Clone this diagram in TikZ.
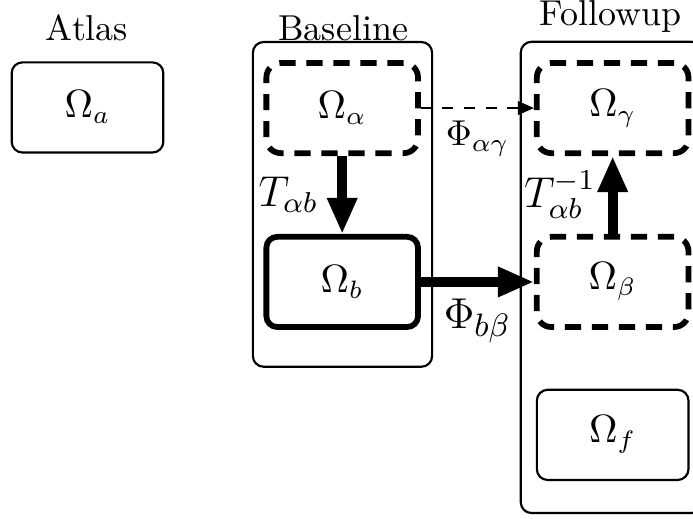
\documentclass[tikz,border=0pt]{standalone}
\usetikzlibrary{shapes,arrows.meta,positioning}
\begin{document}
\begin{tikzpicture}[
  region/.style={rectangle, draw, semithick, rounded corners=3pt, minimum width=1.48cm, minimum height=0.88cm, font=\fontsize{10.5}{12}\selectfont},
  warped/.style={region, line width=1.6pt, dash pattern=on 4.5pt off 3pt, rounded corners=4pt},
  given/.style={region, line width=1.6pt},
  group/.style={rectangle, draw, semithick, rounded corners=3pt},
  arr/.style={-{Triangle[length=10pt, width=7.8pt]}, line width=2.8pt},
  darr/.style={-{Triangle[length=4.5pt, width=3.8pt]}, semithick, dashed}
]
  \useasboundingbox (0,0) rectangle (6.764,5.065);

  \node (atlasl) at (0.85,4.79) {Atlas};
  \node (basel) at (3.35,4.79) {Baseline};
  \node (followl) at (5.96,4.904) {Followup};

  \node[group, minimum width=1.75cm, minimum height=3.17cm] (base) at (3.343,3.07) {};
  \node[group, minimum width=1.77cm, minimum height=4.6cm] (follow) at (5.968,2.357) {};

  \node[region] (a) at (0.854,4.016) {$\Omega_a$};
  \node[warped] (alpha) at (3.34,4.01) {$\Omega_\alpha$};
  \node[given] (b) at (3.34,2.313) {$\Omega_b$};
  \node[warped] (gamma) at (5.98,4.01) {$\Omega_\gamma$};
  \node[warped] (beta) at (5.98,2.313) {$\Omega_\beta$};
  \node[region] (f) at (5.98,0.82) {$\Omega_f$};

  \draw[arr] (alpha) -- node[left, xshift=-2pt, font=\large] {$T_{\alpha b}$} (b);
  \draw[darr] (alpha) -- node[below] {$\Phi_{\alpha\gamma}$} (gamma);
  \draw[arr] (b) -- node[below, font=\fontsize{13}{15}\selectfont] {$\Phi_{b\beta}$} (beta);
  \draw[arr] (beta) -- node[left, font=\large] {$T_{\alpha b}^{-1}$} (gamma);
\end{tikzpicture}
\end{document}
